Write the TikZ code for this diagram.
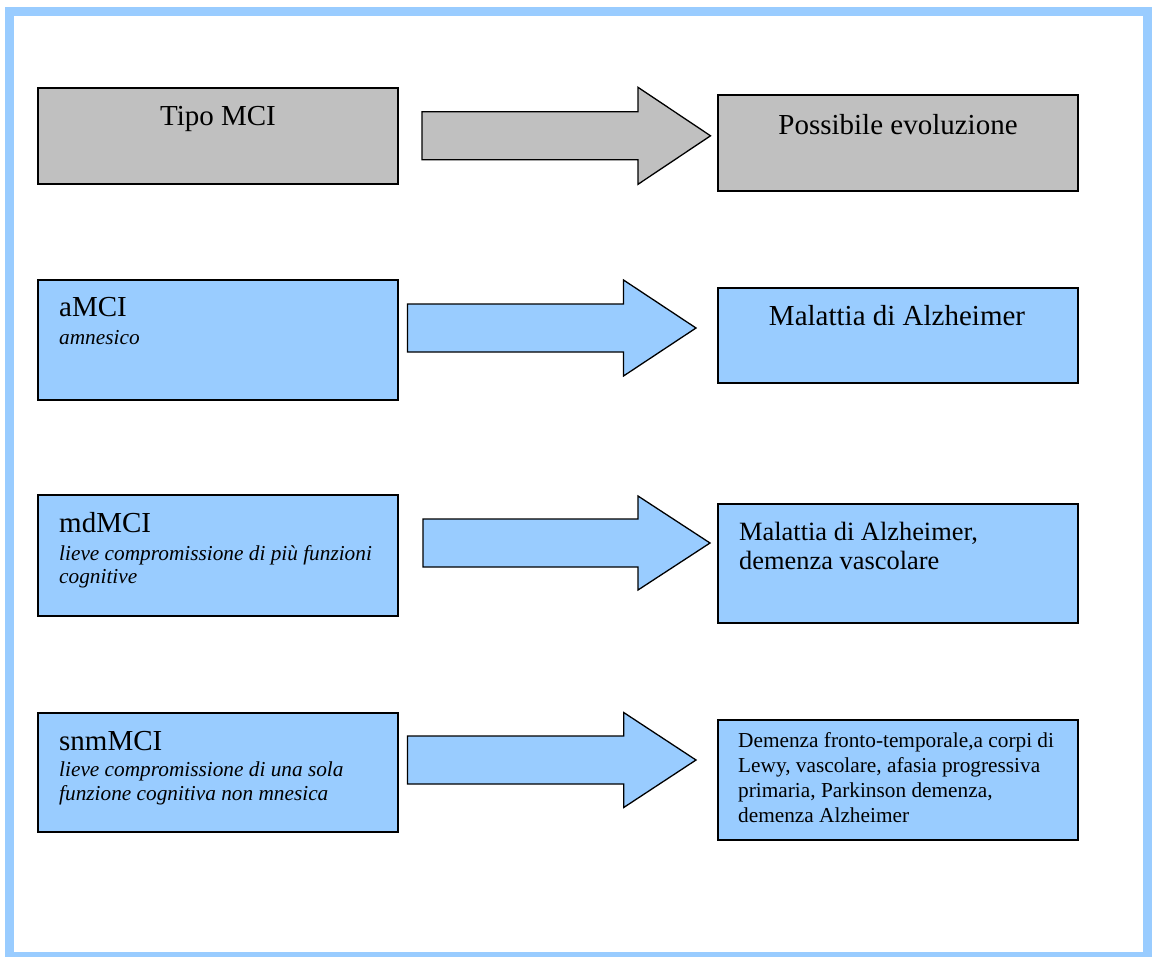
\documentclass[tikz,border=0pt]{standalone}
\usepackage{fontspec}
\setmainfont{Liberation Serif}
\usetikzlibrary{calc}
\definecolor{lblue}{RGB}{153,204,255}
\definecolor{lgray}{RGB}{192,192,192}
\newcommand\BlockArr[7]{%
  \draw[blockarrow,#1] (#2,#5-#6) -- (#3,#5-#6) -- (#3,#5-#7) -- (#4,#5)
    -- (#3,#5+#7) -- (#3,#5+#6) -- (#2,#5+#6) -- cycle;}
\begin{document}
\begin{tikzpicture}[x=1pt,y=-1pt,
  boxbase/.style={draw=black, line width=1.7pt, inner sep=0pt, minimum width=360pt},
  graybox/.style={boxbase, fill=lgray},
  bluebox/.style={boxbase, fill=lblue},
  blockarrow/.style={draw=black, line width=1.3pt, line join=miter},
  big/.style={inner sep=0pt, font=\fontsize{29}{33}\selectfont},
  mid/.style={inner sep=0pt, font=\fontsize{26.4}{30}\selectfont},
  small/.style={inner sep=0pt, font=\fontsize{21.3}{24}\selectfont},
  smallit/.style={inner sep=0pt, font=\fontsize{21.3}{24}\selectfont\itshape},
]
\useasboundingbox (0,0) rectangle (1153,956);
\fill[white] (0,0) rectangle (1153,956);
\draw[lblue, line width=9.3pt] (9.7,11.3) rectangle (1147.2,956.5);

% boxes
\node[graybox, minimum height=96pt]  (tipo) at (218,136) {};
\node[graybox, minimum height=96pt]  (evol) at (898,143) {};
\node[bluebox, minimum height=120pt] (amci) at (218,340) {};
\node[bluebox, minimum height=95pt]  (alz)  at (898,335.5) {};
\node[bluebox, minimum height=121pt] (mdmci) at (218,555.5) {};
\node[bluebox, minimum height=119pt] (alzvas) at (898,563.5) {};
\node[bluebox, minimum height=119pt] (snmmci) at (218,772.5) {};
\node[bluebox, minimum height=120pt] (demenze) at (898,780) {};

% arrows
\BlockArr{fill=lgray}{422}{638}{710.5}{135.8}{24}{48.5}
\BlockArr{fill=lblue}{407.5}{623.5}{696}{328}{24}{48}
\BlockArr{fill=lblue}{423}{638}{710}{543}{24}{47}
\BlockArr{fill=lblue}{407.5}{623.7}{696}{760}{24}{47.5}

% texts
\node[big, anchor=base] (t1) at (218,125) {Tipo MCI};
\node[big, anchor=base] (t2) at (898,134) {Possibile evoluzione};

\node[big, anchor=base west] (t3) at (59,316) {aMCI};
\node[smallit, anchor=base west] (t4) at (59,344) {amnesico};
\node[big, anchor=base] (t5) at (897,325) {Malattia di Alzheimer};

\node[big, anchor=base west] (t6) at (59,532.7) {mdMCI};
\node[smallit, anchor=base west] (t7) at (59,560.7) {lieve compromissione di più funzioni};
\node[smallit, anchor=base west] (t8) at (59,583.3) {cognitive};
\node[mid, anchor=base west] (t9) at (739,540) {Malattia di Alzheimer,};
\node[mid, anchor=base west] (t10) at (739,569) {demenza vascolare};

\node[big, anchor=base west] (t11) at (59,750) {snmMCI};
\node[smallit, anchor=base west] (t12) at (59,776) {lieve compromissione di una sola};
\node[smallit, anchor=base west] (t13) at (59,800) {funzione cognitiva non mnesica};
\node[small, anchor=base west] (t14) at (738,747) {Demenza fronto-temporale,a corpi di};
\node[small, anchor=base west] (t15) at (738,772.5) {Lewy, vascolare, afasia progressiva};
\node[small, anchor=base west] (t16) at (738,797.5) {primaria, Parkinson demenza,};
\node[small, anchor=base west] (t17) at (738,822) {demenza Alzheimer};
\end{tikzpicture}
\end{document}
